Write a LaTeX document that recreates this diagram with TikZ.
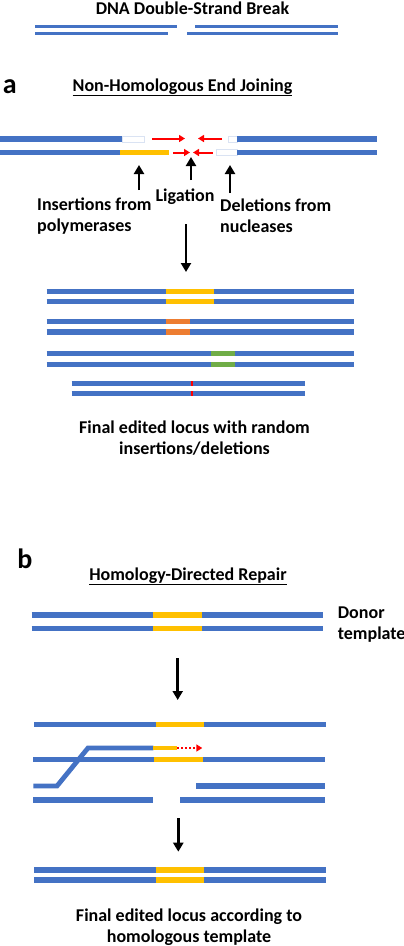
\documentclass[tikz,border=0pt]{standalone}
\usepackage{fontspec}
\setmainfont{Carlito}
\usetikzlibrary{arrows.meta}

\definecolor{dnablue}{HTML}{4472C4}
\definecolor{insyellow}{HTML}{FFC000}
\definecolor{insorange}{HTML}{ED7D31}
\definecolor{insgreen}{HTML}{70AD47}
\definecolor{gapedge}{HTML}{DAE3F3}

\tikzset{
  strand/.style={dnablue, line width=5.5pt},
  thinstrand/.style={dnablue, line width=3pt},
  gapbox/.style={draw=gapedge, fill=white, line width=0.6pt},
  txt/.style={font=\fontsize{18}{21}\selectfont\bfseries, inner sep=0pt, anchor=base},
  panel/.style={font=\fontsize{28}{28}\selectfont\bfseries, inner sep=0pt, anchor=base},
  bigarrow/.style={black, line width=2.5pt, -{Triangle[length=9pt,width=10pt]}},
  redarrow/.style={red, line width=2pt, -{Triangle[length=6pt,width=7pt]}},
}

\begin{document}
\begin{tikzpicture}[x=1pt,y=-1pt]
\useasboundingbox (0,0) rectangle (404,946);

% double-strand break
\node[txt] (dsb) at (192.5,14) {DNA Double-Strand Break};
\draw[thinstrand] (35,26) -- (177,26);
\draw[thinstrand] (195,26) -- (338,26);
\draw[thinstrand] (35,33.3) -- (168,33.3);
\draw[thinstrand] (187,33.3) -- (338,33.3);

% a
\node[panel] (pa) at (9.7,93) {a};
\node[txt] (nhej) at (182.5,91) {\underline{Non-Homologous End Joining}};

\draw[strand] (0,139) -- (122,139);
\draw[gapbox] (122,136) rectangle (144,142);
\draw[gapbox] (228,136) rectangle (237,142);
\draw[strand] (237,139) -- (377,139);
\draw[strand] (0,152.7) -- (120,152.7);
\draw[strand,insyellow] (120,152.7) -- (169,152.7);
\draw[gapbox] (216,149.7) rectangle (237,155.7);
\draw[strand] (237,152.7) -- (377,152.7);

\coordinate (ra1) at (152,138.5); \coordinate (rb1) at (185,138.5);
\coordinate (ra2) at (222,138.5); \coordinate (rb2) at (198,138.5);
\coordinate (ra3) at (173,152.5); \coordinate (rb3) at (190,152.5);
\coordinate (ra4) at (213,152.5); \coordinate (rb4) at (193,152.5);
\draw[redarrow] (ra1) -- (rb1);
\draw[redarrow] (ra2) -- (rb2);
\draw[redarrow] (ra3) -- (rb3);
\draw[redarrow] (ra4) -- (rb4);

\coordinate (insTail) at (139,190);   \coordinate (insTip) at (139,165);
\coordinate (ligTail) at (191,180);   \coordinate (ligTip) at (191,157);
\coordinate (delTail) at (230,193);   \coordinate (delTip) at (230,165);
\draw[bigarrow] (insTail) -- (insTip);
\draw[bigarrow] (ligTail) -- (ligTip);
\draw[bigarrow] (delTail) -- (delTip);

\node[txt,anchor=base west,align=left] (ins) at (37,231) {Insertions from\\polymerases};
\node[txt] (lig) at (185,201) {Ligation};
\node[txt,anchor=base west,align=left] (del) at (220,232) {Deletions from\\nucleases};

\coordinate (nhejTail) at (186,224); \coordinate (nhejTip) at (186,272);
\draw[bigarrow] (nhejTail) -- (nhejTip);

% edited loci
\draw[strand] (46.7,291.7) -- (354,291.7);
\draw[strand] (46.7,301.7) -- (354,301.7);
\draw[strand,insyellow] (165.7,291.7) -- (214.3,291.7);
\draw[strand,insyellow] (165.7,301.7) -- (214.3,301.7);

\draw[strand] (46.7,321.7) -- (354,321.7);
\draw[strand] (46.7,332) -- (354,332);
\draw[strand,insorange] (165.7,321.7) -- (190,321.7);
\draw[strand,insorange] (165.7,332) -- (190,332);

\draw[strand] (46.7,353.7) -- (354,353.7);
\draw[strand] (46.7,364.3) -- (354,364.3);
\draw[strand,insgreen] (211,353.7) -- (235.3,353.7);
\draw[strand,insgreen] (211,364.3) -- (235.3,364.3);

\draw[strand] (71.7,383.7) -- (305,383.7);
\draw[strand] (71.7,393.7) -- (305,393.7);
\draw[strand,red] (190.7,383.7) -- (193.3,383.7);
\draw[strand,red] (190.7,393.7) -- (193.3,393.7);

\node[txt,align=center] (nhejEnd) at (194.5,454) {Final edited locus with random\\insertions/deletions};

% b
\node[panel] (pb) at (25,568) {b};
\node[txt] (hdr) at (188,580) {\underline{Homology-Directed Repair}};

\draw[strand] (31.7,615) -- (323.3,615);
\draw[strand] (31.7,628.7) -- (323.3,628.7);
\draw[strand,insyellow] (153.3,615) -- (202.3,615);
\draw[strand,insyellow] (153.3,628.7) -- (202.3,628.7);
\node[txt,anchor=base west,align=left] (donor) at (337.7,639) {Donor\\template};

\coordinate (hdrTail1) at (177.7,658); \coordinate (hdrTip1) at (177.7,700);
\draw[bigarrow] (hdrTail1) -- (hdrTip1);

\draw[strand] (34,724.3) -- (325.7,724.3);
\draw[strand,insyellow] (155.7,724.3) -- (204,724.3);
\draw[strand] (33.3,759.3) -- (325,759.3);
\draw[strand,insyellow] (154,759.3) -- (203.3,759.3);
\draw[strand] (196,786) -- (325,786);
\draw[strand] (33.3,800) -- (153.3,800);
\draw[strand] (180,800) -- (325,800);

% invading strand
\draw[dnablue,line width=4.8pt,line join=miter] (153.3,748) -- (88,748) -- (57,786) -- (33.3,786);
\draw[insyellow,line width=4.8pt] (153.3,748) -- (177.3,748);
\coordinate (extTail) at (177.3,748); \coordinate (extTip) at (202.3,748);
\draw[red,line width=2pt,dotted,-{Triangle[length=6pt,width=7pt]}] (extTail) -- (extTip);

\coordinate (hdrTail2) at (178.3,818); \coordinate (hdrTip2) at (178.3,851.7);
\draw[bigarrow] (hdrTail2) -- (hdrTip2);

\draw[strand] (34,870) -- (325.7,870);
\draw[strand] (34,880) -- (325.7,880);
\draw[strand,insyellow] (155.7,870) -- (204,870);
\draw[strand,insyellow] (155.7,880) -- (204,880);

\node[txt,align=center] (hdrEnd) at (189,942) {Final edited locus according to\\homologous template};
\end{tikzpicture}
\end{document}
